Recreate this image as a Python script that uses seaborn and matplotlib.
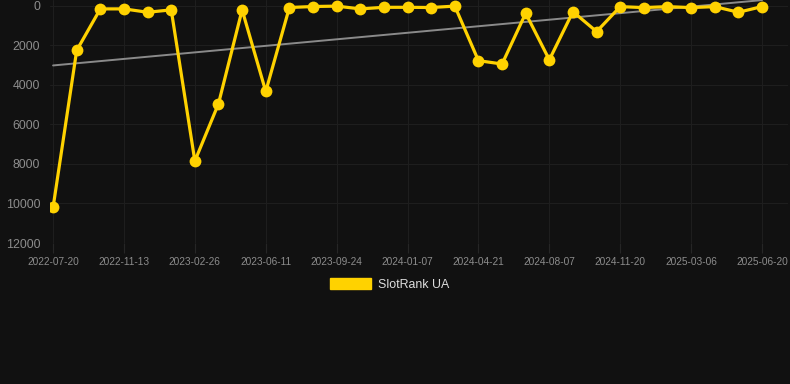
import numpy as np
import pandas as pd
import matplotlib
matplotlib.use('Agg')
import matplotlib.pyplot as plt
from matplotlib.patches import Patch
import seaborn as sns

# valores (rank, quanto menor melhor)
rank_values = [10200, 2250, 150, 150, 320, 200, 7850, 4950, 200, 4330,
               80, 30, 10, 150, 70, 70, 80, 10, 2770, 2940,
               370, 2730, 290, 1300, 35, 85, 35, 85, 35, 320, 35]
tick_labels = ['2022-07-20', '2022-11-13', '2023-02-26', '2023-06-11',
               '2023-09-24', '2024-01-07', '2024-04-21', '2024-08-07',
               '2024-11-20', '2025-03-06', '2025-06-20']
y_ticks = [0, 2000, 4000, 6000, 8000, 10000, 12000]
series_name = 'SlotRank UA'

bg = '#111111'
gold = '#FFD200'
grid_color = '#1e1e1e'
label_color = '#8c8c8c'

df = pd.DataFrame({'idx': np.arange(len(rank_values)), 'rank': rank_values})

sns.set_theme(style='dark')
plt.rcParams['font.family'] = ['Liberation Sans', 'DejaVu Sans']

fig = plt.figure(figsize=(7.9, 3.84), dpi=100, facecolor=bg)
ax = fig.add_axes([50 / 790, 1 - 243 / 384, 738 / 790, 243 / 384])
ax.set_facecolor(bg)

# linha de tendencia (regressao linear)
sns.regplot(data=df, x='idx', y='rank', scatter=False, ci=None, truncate=True,
            color='#8a8a8a', line_kws={'linewidth': 1.4}, ax=ax)

sns.lineplot(data=df, x='idx', y='rank', color=gold, linewidth=2.3,
             marker='o', markersize=8.5, markeredgewidth=0, ax=ax)

ax.set_xlim(-0.13, 31.1)
ax.set_ylim(12000, -300)
ax.set_yticks(y_ticks)
ax.set_yticklabels([str(v) for v in y_ticks])
tick_pos = df['idx'].values[::3]
ax.set_xticks(tick_pos)
ax.set_xticklabels(tick_labels)

ax.grid(True, color=grid_color, linewidth=0.8)
ax.tick_params(axis='y', colors=label_color, labelsize=8.9, length=0, pad=7)
ax.tick_params(axis='x', colors='#262626', labelcolor=label_color, labelsize=7.3,
               length=7, width=0.8, pad=3, bottom=True)
for s in ax.spines.values():
    s.set_visible(False)
ax.set_xlabel('')
ax.set_ylabel('')

handle = Patch(facecolor=gold, edgecolor=gold, label=series_name)
leg = fig.legend(handles=[handle], loc='center', bbox_to_anchor=(390 / 790, 1 - 284.5 / 384),
                 frameon=False, fontsize=8.9, handlelength=3.3, handleheight=0.95,
                 handletextpad=0.6)
for t in leg.get_texts():
    t.set_color('#dddddd')

fig.savefig('out.png', dpi=100, facecolor=bg)
